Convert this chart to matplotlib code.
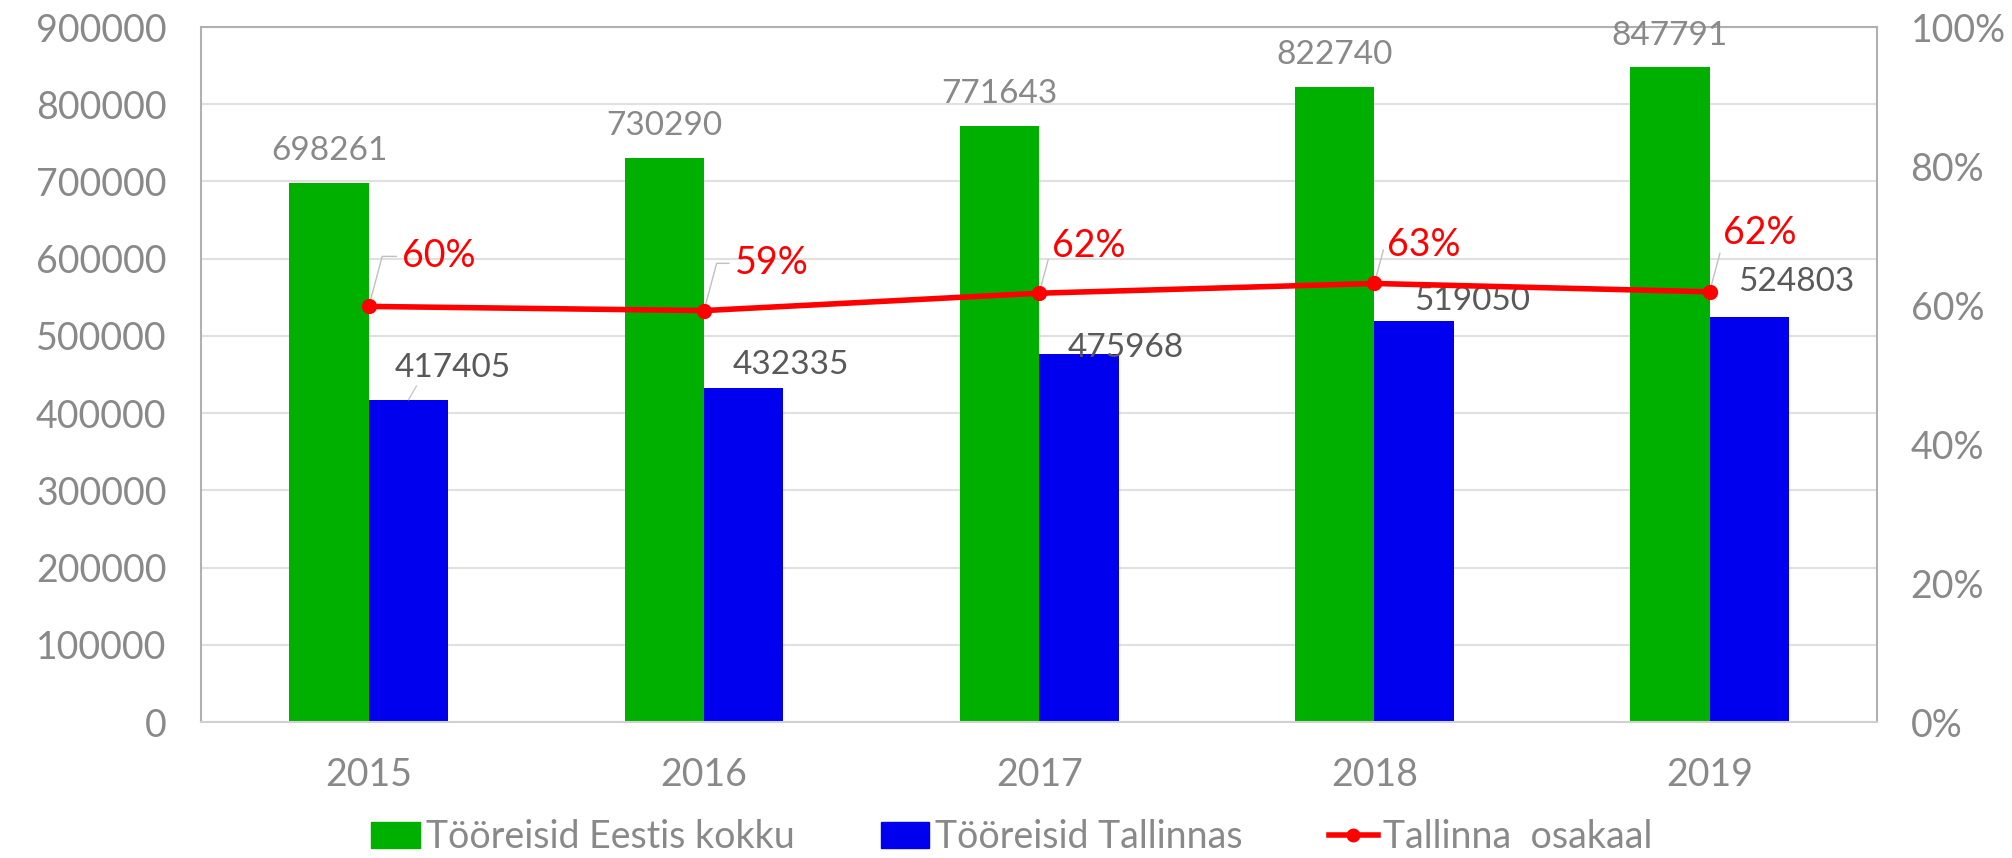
"""Tööreisid Eestis ja Tallinnas, 2015-2019."""

import numpy as np
import matplotlib
matplotlib.use("Agg")
import matplotlib.pyplot as plt
from matplotlib.ticker import FuncFormatter, MultipleLocator

years = ["2015", "2016", "2017", "2018", "2019"]
total_estonia = [698261, 730290, 771643, 822740, 847791]
total_tallinn = [417405, 432335, 475968, 519050, 524803]
tallinn_share = [0.598, 0.592, 0.617, 0.631, 0.619]
share_labels = ["60%", "59%", "62%", "63%", "62%"]

GREEN = "#00b000"
BLUE = "#0000ee"
RED = "#ff0000"
GREY_TXT = "#898989"
DARK_TXT = "#595959"

plt.rcParams["font.family"] = ["Lato", "DejaVu Sans"]

fig = plt.figure(figsize=(20.12, 8.58), dpi=100)
ax = fig.add_axes([0.100, 0.1585, 0.833, 0.810])
ax2 = ax.twinx()

x = np.arange(len(years))
w = 0.237
ax.bar(x - w / 2, total_estonia, w, color=GREEN, zorder=2)
ax.bar(x + w / 2, total_tallinn, w, color=BLUE, zorder=2)

ax.set_xlim(-0.5, len(years) - 0.5)
ax.set_ylim(0, 900000)
ax.yaxis.set_major_locator(MultipleLocator(100000))
ax.grid(axis="y", color="#e0e0e0", lw=1.5, zorder=0)
ax.set_axisbelow(True)
ax.set_xticks(x)
ax.set_xticklabels(years)
ax.tick_params(axis="both", length=0, labelsize=27, colors=GREY_TXT)
ax.tick_params(axis="x", pad=25)
ax.tick_params(axis="y", pad=25)
for s in ax.spines.values():
    s.set_color("#b0b0b0")
    s.set_linewidth(1.5)
ax.spines["bottom"].set_color("#d0d0d0")

ax2.plot(x, tallinn_share, color=RED, lw=4, marker="o", ms=10, zorder=5)
ax2.set_ylim(0, 1.0)
ax2.yaxis.set_major_locator(MultipleLocator(0.2))
ax2.yaxis.set_major_formatter(FuncFormatter(lambda v, p: f"{v * 100:.0f}%"))
ax2.tick_params(axis="y", length=0, labelsize=27, colors=GREY_TXT, pad=24)
for s in ax2.spines.values():
    s.set_visible(False)

# green bar labels, centred just above the bars
for xi, v in zip(x, total_estonia):
    ax.annotate(f"{v}", (xi - w / 2, v), xytext=(0, 12), textcoords="offset points",
                ha="center", va="bottom", fontsize=24, color=GREY_TXT)

# blue bar labels were nudged by hand in the original
blue_off = [(32, 12), (34, 6), (34, -6), (42, 4), (34, 14)]
for i, (xi, v) in enumerate(zip(x, total_tallinn)):
    ax.annotate(f"{v}", (xi + w / 2, v), xytext=blue_off[i], textcoords="offset points",
                ha="center", va="bottom", fontsize=24, color=DARK_TXT,
                arrowprops=dict(arrowstyle="-", color="#c8c8c8", lw=1,
                                shrinkA=0, shrinkB=0, relpos=(0.2, 0.0)) if i == 0 else None)

# share labels with leader lines
share_off = [(24, 36), (22, 34), (9, 34), (9, 28), (10, 42)]
for i, (xi, v) in enumerate(zip(x, tallinn_share)):
    ax2.annotate(share_labels[i], (xi, v), xytext=share_off[i], textcoords="offset points",
                 ha="left", va="center", fontsize=27, color=RED,
                 arrowprops=dict(arrowstyle="-", color="#c0c0c0", lw=1,
                                 shrinkA=2, shrinkB=0, relpos=(0.0, 0.5),
                                 connectionstyle="angle,angleA=0,angleB=75,rad=0"))

handles = [
    plt.Rectangle((0, 0), 1, 1, color=GREEN),
    plt.Rectangle((0, 0), 1, 1, color=BLUE),
    plt.Line2D([], [], color=RED, lw=4, marker="o", ms=9),
]
labels = ["Tööreisid Eestis kokku", "Tööreisid Tallinnas", "Tallinna  osakaal"]
fig.legend(handles, labels, loc="center", bbox_to_anchor=(0.503, 0.024), ncol=3,
           frameon=False, fontsize=27, labelcolor=GREY_TXT, handlelength=1.3,
           handletextpad=0.15, columnspacing=2.3)

fig.savefig("out.png", dpi=100)
